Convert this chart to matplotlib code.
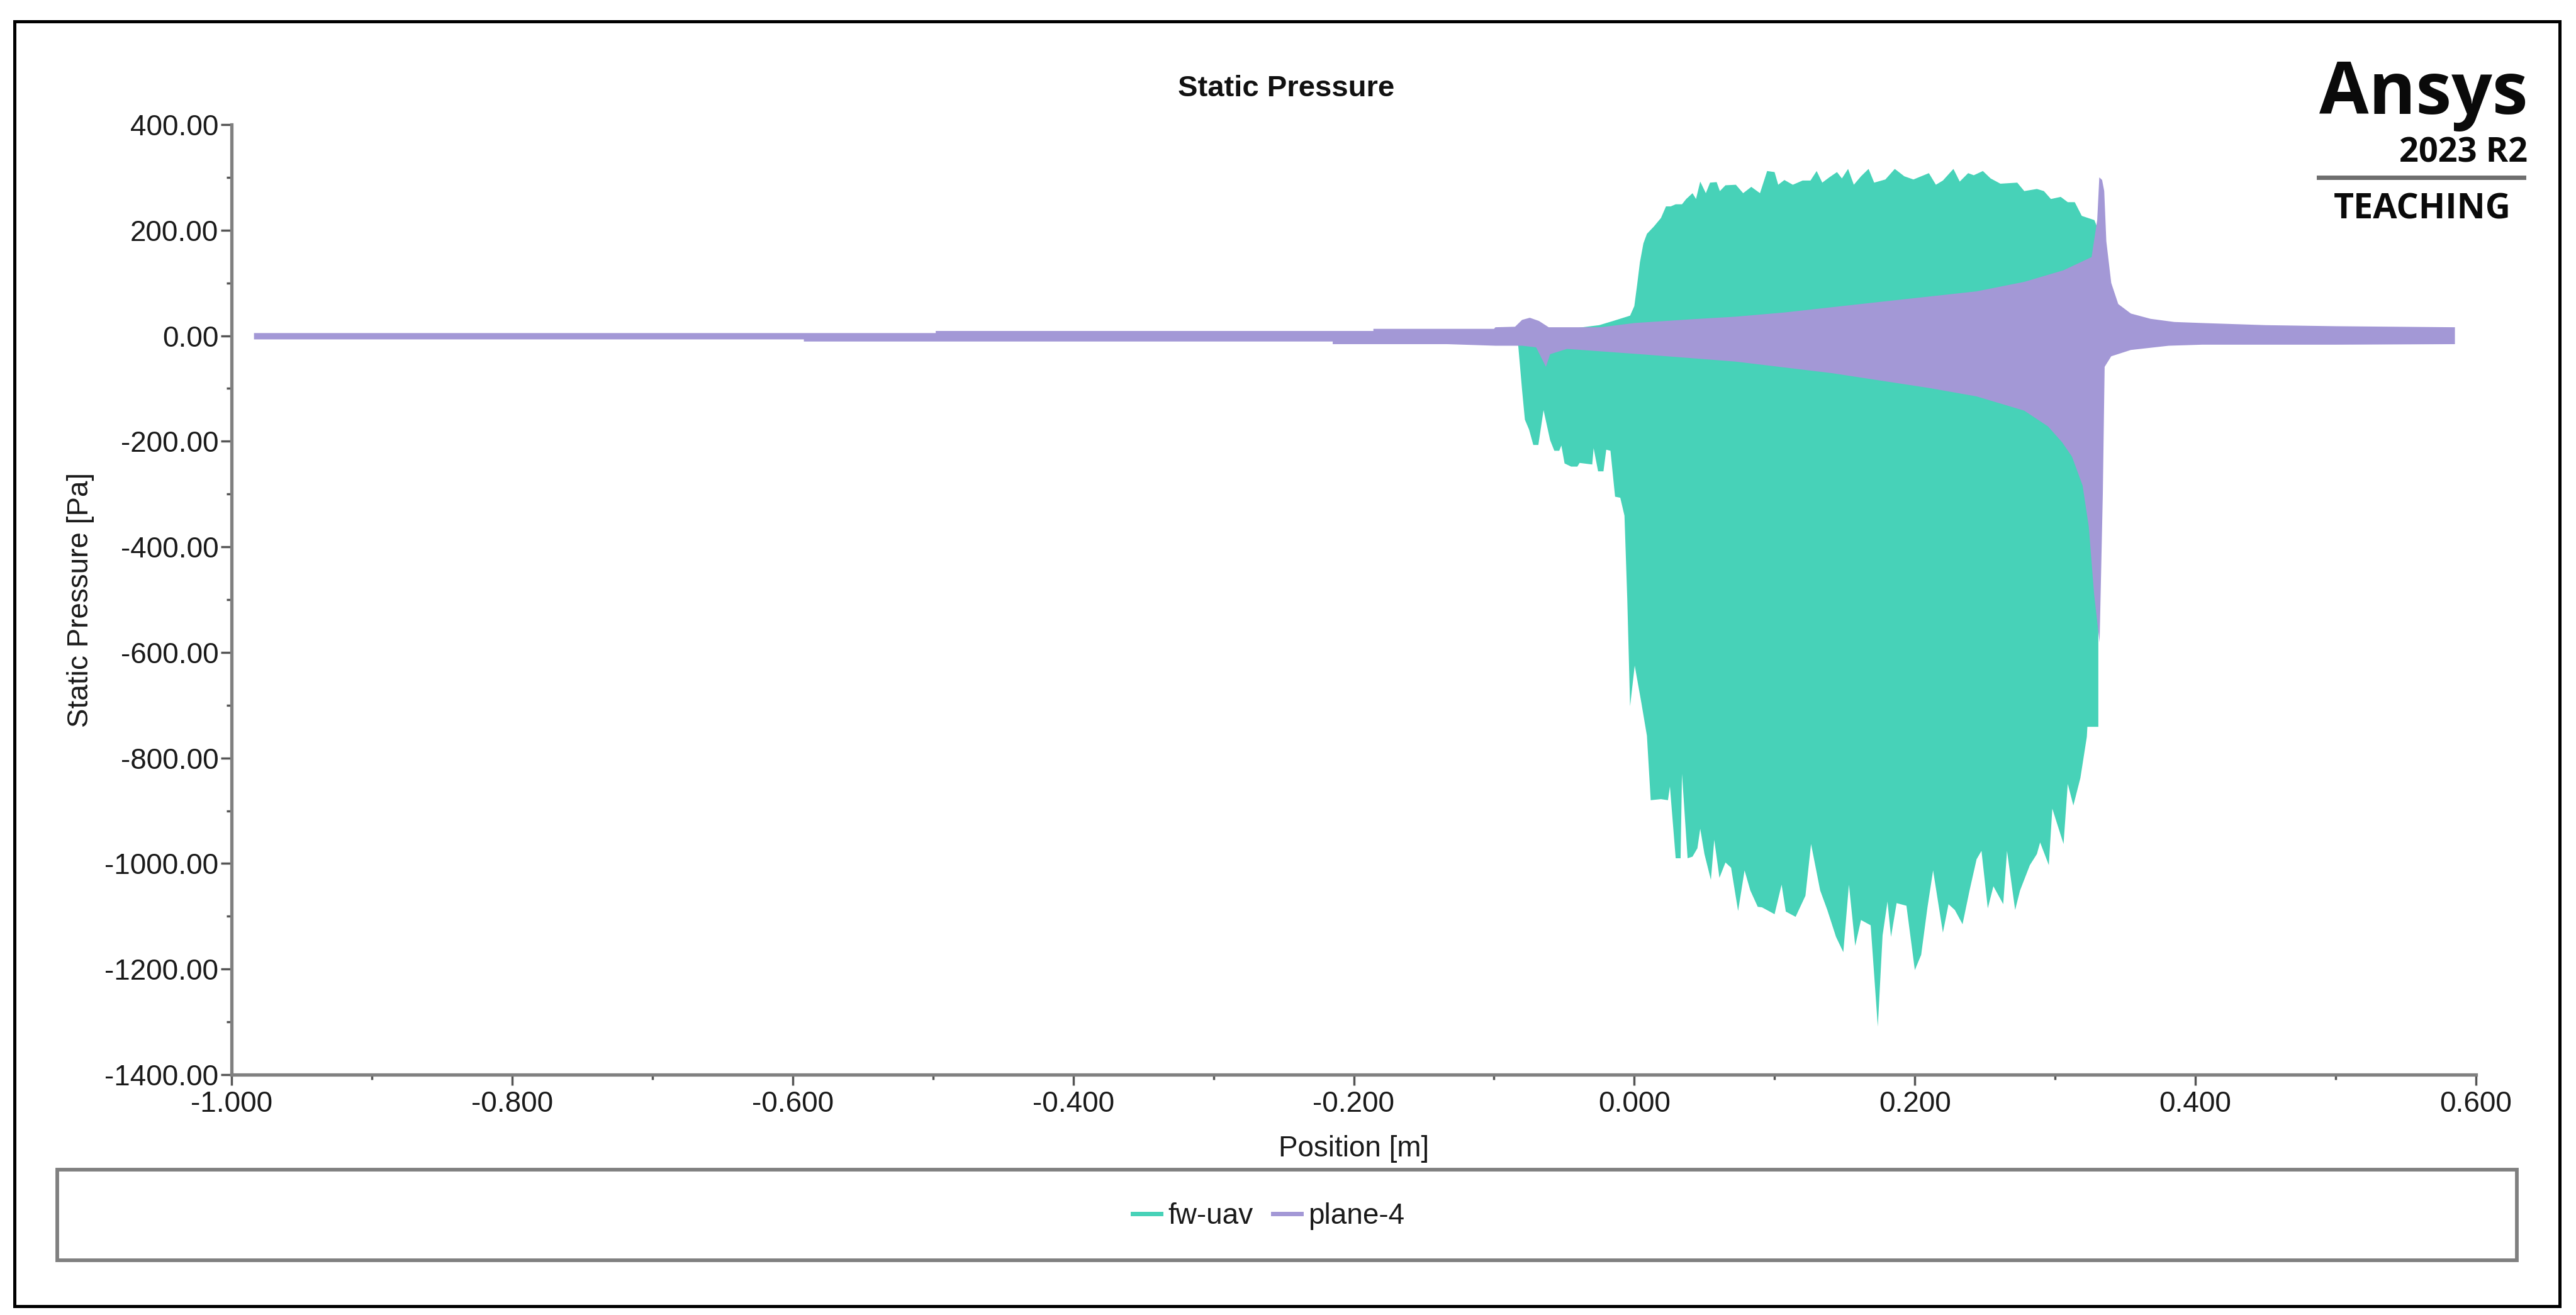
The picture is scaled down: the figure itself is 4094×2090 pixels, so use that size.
import numpy as np
import matplotlib
matplotlib.use('Agg')
import matplotlib.pyplot as plt
from matplotlib.lines import Line2D
from matplotlib.patches import Rectangle

W, H = 4094, 2090

# fw-uav envelope
teal_up_x = [-0.085, -0.025, -0.015, -0.003, 0.0, 0.002, 0.004, 0.0065, 0.009, 0.014, 0.019, 0.0226, 0.026, 0.0295,
             0.034, 0.037, 0.0415, 0.044, 0.047, 0.051, 0.054, 0.0587, 0.061, 0.065, 0.0724, 0.0776, 0.0834, 0.0896,
             0.0947, 0.1, 0.1026, 0.107, 0.113, 0.12, 0.1256, 0.13, 0.134, 0.139, 0.1445, 0.148, 0.1524, 0.1565,
             0.1616, 0.167, 0.171, 0.179, 0.1857, 0.1925, 0.199, 0.21, 0.215, 0.22, 0.2275, 0.232, 0.238, 0.242,
             0.2485, 0.254, 0.261, 0.273, 0.278, 0.287, 0.292, 0.297, 0.304, 0.309, 0.314, 0.319, 0.328, 0.3308]
teal_up = [0, 20, 28, 38, 56, 96, 139, 175, 193, 207, 223, 245, 245, 249,
           249, 259, 270, 259, 292, 270, 290, 291, 274, 285, 286, 270, 282, 270,
           312, 310, 286, 295, 286, 294, 294, 312, 290, 300, 310, 298, 316, 286,
           302, 316, 290, 296, 316, 302, 296, 308, 286, 294, 316, 292, 308, 304,
           312, 298, 288, 290, 274, 278, 274, 259, 263, 253, 253, 227, 219, 200]
teal_low_x = [-0.0827, -0.08, -0.078, -0.075, -0.072, -0.0684, -0.0647, -0.06, -0.057, -0.0535, -0.052, -0.0497,
              -0.045, -0.0406, -0.039, -0.03, -0.029, -0.0258, -0.022, -0.02, -0.017, -0.0137, -0.01, -0.007,
              -0.005, -0.003, 0.0003, 0.005, 0.009, 0.0117, 0.019, 0.024, 0.0254, 0.0295, 0.033, 0.034, 0.038,
              0.0415, 0.045, 0.047, 0.05, 0.0546, 0.057, 0.0607, 0.065, 0.069, 0.074, 0.0786, 0.0827, 0.088, 0.091,
              0.1, 0.105, 0.108, 0.115, 0.122, 0.126, 0.1325, 0.1376, 0.1438, 0.149, 0.153, 0.1575, 0.1616, 0.1685,
              0.1736, 0.177, 0.1805, 0.183, 0.187, 0.194, 0.2, 0.2045, 0.209, 0.213, 0.22, 0.224, 0.2285, 0.234,
              0.239, 0.244, 0.2475, 0.252, 0.256, 0.263, 0.2657, 0.2715, 0.275, 0.282, 0.287, 0.2893, 0.2955, 0.298,
              0.306, 0.309, 0.313, 0.318, 0.3226, 0.323, 0.3308, 0.3308]
teal_low = [-20, -103, -159, -178, -207, -207, -141, -198, -218, -218, -208, -242,
            -248, -248, -241, -244, -213, -257, -257, -216, -218, -305, -307, -341,
            -500, -702, -625, -695, -758, -880, -878, -880, -854, -990, -990, -830, -990,
            -987, -971, -934, -982, -1031, -955, -1027, -998, -1008, -1090, -1013, -1051, -1082, -1083,
            -1096, -1040, -1091, -1101, -1061, -963, -1051, -1088, -1139, -1168, -1040, -1156, -1107, -1117,
            -1309, -1136, -1072, -1139, -1075, -1080, -1202, -1173, -1083, -1013, -1131, -1077, -1088, -1115,
            -1051, -992, -976, -1085, -1043, -1077, -976, -1088, -1051, -1003, -982, -960, -1003, -896,
            -963, -849, -890, -838, -760, -741, -741, -580]

# plane-4 envelope
purple_up_x = [-0.984, -0.498, -0.498, -0.186, -0.186, -0.1, -0.099, -0.085, -0.08, -0.0745, -0.068, -0.061,
               -0.024, 0.0, 0.04, 0.072, 0.107, 0.175, 0.244, 0.278, 0.306, 0.326, 0.33, 0.3315, 0.3335, 0.335, 0.3365,
               0.34, 0.345, 0.354, 0.368, 0.385, 0.405, 0.45, 0.5, 0.585]
purple_up = [5, 5, 9, 9, 13, 13, 16, 17, 30, 34, 28, 16,
             16, 24, 31, 36, 44, 64, 84, 102, 124, 149, 219, 300, 295, 274, 179,
             100, 60, 42, 32, 26, 24, 20, 18, 16]
purple_low_x = [-0.984, -0.592, -0.592, -0.215, -0.215, -0.1335, -0.099, -0.08, -0.07, -0.063, -0.06, -0.048,
                0.004, 0.072, 0.141, 0.21, 0.244, 0.278, 0.295, 0.305, 0.312, 0.3196, 0.324, 0.3278, 0.3317, 0.334,
                0.3353, 0.34, 0.354, 0.381, 0.405, 0.45, 0.5, 0.585]
purple_low = [-7, -7, -11, -11, -16, -16, -19, -19, -22, -59, -35, -25,
              -35, -49, -71, -99, -115, -142, -172, -202, -229, -284, -362, -490, -581, -300,
              -59, -39, -27, -19, -17, -17, -17, -16]

x_ticks = [-1.0, -0.8, -0.6, -0.4, -0.2, 0.0, 0.2, 0.4, 0.6]
x_labels = ['-1.000', '-0.800', '-0.600', '-0.400', '-0.200', '0.000', '0.200', '0.400', '0.600']
y_ticks = [400, 200, 0, -200, -400, -600, -800, -1000, -1200, -1400]
y_labels = ['400.00', '200.00', '0.00', '-200.00', '-400.00', '-600.00', '-800.00', '-1000.00', '-1200.00', '-1400.00']

teal = '#47D2B8'
purple = '#A398D6'
gray = '#808080'

plt.rcParams['font.family'] = ['Liberation Sans', 'DejaVu Sans']
plt.rcParams['font.size'] = 33


def fx(px):
    return px / W


def fy(py):
    return 1 - py / H


def add_box(fig, x0, y0, x1, y1, color, lw):
    fig.add_artist(Rectangle((fx(x0), fy(y1)), fx(x1) - fx(x0), fy(y0) - fy(y1), transform=fig.transFigure,
                             fill=False, edgecolor=color, linewidth=lw))


fig = plt.figure(figsize=(W / 100, H / 100), dpi=100, facecolor='white')
ax = fig.add_axes([fx(368), fy(1708), fx(3935 - 368), fy(198) - fy(1708)])

# teal goes under the purple band
ax.fill(np.r_[teal_up_x, teal_low_x[::-1]], np.r_[teal_up, teal_low[::-1]], color=teal, linewidth=0, zorder=2)
ax.fill(np.r_[purple_up_x, purple_low_x[::-1]], np.r_[purple_up, purple_low[::-1]], color=purple, linewidth=0, zorder=3)

ax.set_xlim(-1.0, 0.6)
ax.set_ylim(-1400, 400)
ax.set_xticks(x_ticks, x_labels)
ax.set_yticks(y_ticks, y_labels)
ax.set_xticks(np.arange(-0.9, 0.6, 0.2), minor=True)
ax.set_yticks(np.arange(-1300, 400, 200), minor=True)
ax.tick_params(axis='both', which='major', length=12, width=2.5, color='#555555', labelcolor='#1a1a1a', labelsize=33)
ax.tick_params(axis='x', which='major', pad=6)
ax.tick_params(axis='y', which='major', pad=3)
ax.tick_params(axis='both', which='minor', length=6, width=2.5, color='#555555')
for side in ['top', 'right']:
    ax.spines[side].set_visible(False)
for side in ['left', 'bottom']:
    ax.spines[side].set_color(gray)
    ax.spines[side].set_linewidth(3.8)

fig.text(fx(2044), fy(141), 'Static Pressure', ha='center', va='center', fontsize=34, fontweight='bold', color='#111111')
fig.text(fx(2152), fy(1838), 'Position [m]', ha='center', va='baseline', fontsize=33, color='#1a1a1a')
fig.text(fx(128), fy(953), 'Static Pressure [Pa]', ha='center', va='center', rotation=90, fontsize=33, color='#1a1a1a')

# outer frame and legend box
add_box(fig, 23, 34, 4068, 2076, 'black', 3.6)
add_box(fig, 91, 1859, 4000, 2003, gray, 4.2)

handles = [Line2D([], [], color=teal, linewidth=5), Line2D([], [], color=purple, linewidth=5)]
fig.legend(handles, ['fw-uav', 'plane-4'], ncol=2, frameon=False, loc='center',
           bbox_to_anchor=(fx(2016), fy(1933)), fontsize=33, handlelength=0.98, handletextpad=0.24,
           columnspacing=0.68, labelcolor='#1a1a1a', borderpad=0)

# logo
fig.text(fx(4017), fy(181), 'Ansys', ha='right', va='baseline', fontsize=82, fontweight='bold',
         family='Open Sans', color='#0a0a0a')
fig.text(fx(4017), fy(258), '2023 R2', ha='right', va='baseline', fontsize=39, fontweight='bold',
         family='Open Sans', color='#0a0a0a')
fig.add_artist(Line2D([fx(3685), fx(4011)], [fy(282), fy(282)], color='#6e6e6e', linewidth=5))
fig.text(fx(3850), fy(348), 'TEACHING', ha='center', va='baseline', fontsize=40, fontweight='bold',
         family='Open Sans', color='#0a0a0a')

fig.savefig('out.png', dpi=100)
